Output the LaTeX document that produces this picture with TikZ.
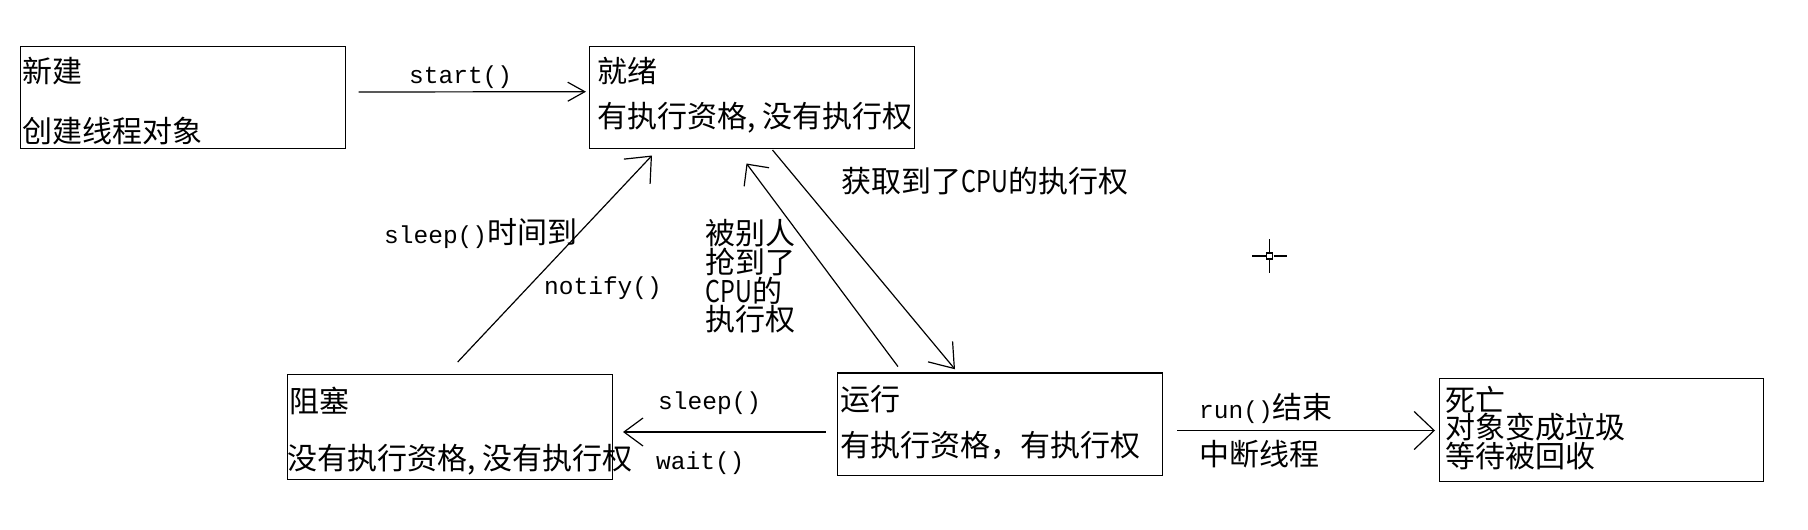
\documentclass[tikz,border=0pt]{standalone}
\usepackage{fontspec}
\usepackage{graphicx}
\setmainfont{Noto Sans CJK SC}
\newfontfamily\codefont{Liberation Mono}
\newcommand\codetxt[1]{{\codefont\fontsize{24.5}{26}\selectfont #1}}
\newcommand\cputxt{\scalebox{0.78}[1]{CPU}}
\newcommand\halfcomma{\makebox[0.5em][l]{,}}
\usetikzlibrary{arrows.meta}
\begin{document}
\begin{tikzpicture}[x=1pt,y=-1pt,
  box/.style={draw, line width=1.4pt, inner sep=0, anchor=north west},
  txt/.style={inner sep=0, anchor=west, align=left, font=\fontsize{30}{28}\selectfont},
  arr/.style 2 args={line width=1.2pt, -{Straight Barb[length=#1,width=#2,line width=1.2pt]}}]
\useasboundingbox[fill=white] (0,0) rectangle (1808,530);

% boxes
\node[box, minimum width=325pt, minimum height=101.6pt] (new) at (19.6,46) {};
\node[box, minimum width=325pt, minimum height=101.6pt] (ready) at (589,46) {};
\node[box, minimum width=325pt, minimum height=105pt] (blocked) at (287,373.6) {};
\node[box, minimum width=325pt, minimum height=102.6pt] (running) at (837,372.4) {};
\node[box, minimum width=324pt, minimum height=103pt] (dead) at (1439,378) {};

% box texts
\node[txt] (newA) at (22,71.5) {新建};
\node[txt] (newB) at (22,131.5) {创建线程对象};
\node[txt] (readyA) at (597,71.5) {就绪};
\node[txt] (readyB) at (597,117.6) {有执行资格\halfcomma 没有执行权};
\node[txt] (blockedA) at (289.4,401) {阻塞};
\node[txt] (blockedB) at (287,460) {没有执行资格\halfcomma 没有执行权};
\node[txt] (runningA) at (840.5,399) {运行};
\node[txt] (runningB) at (840.5,445) {有执行资格，有执行权};
\node[txt, anchor=north west, font=\fontsize{30}{27.5}\selectfont] (deadT) at (1445,386) {死亡\\对象变成垃圾\\等待被回收};

% arrow end points
\coordinate (s1) at (358.6,92);   \coordinate (s2) at (586,91.7);
\coordinate (b1) at (457.7,362);  \coordinate (b2) at (652,155.5);
\coordinate (r1) at (898,366.6);  \coordinate (r2) at (746.5,163.5);
\coordinate (g1) at (772.5,150);  \coordinate (g2) at (955,369.3);
\coordinate (w1) at (825.6,432);  \coordinate (w2) at (623,432);
\coordinate (d1) at (1177,430.5); \coordinate (d2) at (1435,430.5);

\draw[arr={17pt}{19pt}] (s1) -- (s2);
\draw[arr={21pt}{36pt}] (b1) -- (b2);
\draw[arr={16pt}{31pt}] (r1) -- (r2);
\draw[arr={22pt}{32pt}] (g1) -- (g2);
\draw[arr={19pt}{28pt}] (w1) -- (w2);
\draw[arr={20pt}{38pt}] (d1) -- (d2);

% arrow labels
\node[txt] (lstart) at (409,77) {\codetxt{start()}};
\node[txt] (lsleept) at (384,234) {\codetxt{sleep()}时间到};
\node[txt] (lnotify) at (544,288) {\codetxt{notify()}};
\node[txt] (lget) at (841.7,181) {获取到了\cputxt 的执行权};
\node[txt, anchor=north west, font=\fontsize{30}{26.5}\selectfont] (lrob) at (705.6,219) {被别人\\抢到了\\\cputxt 的\\执行权};
\node[txt] (lsleep) at (658,403.6) {\codetxt{sleep()}};
\node[txt] (lwait) at (656,463.5) {\codetxt{wait()}};
\node[txt] (lrun) at (1199,408) {\codetxt{run()}结束};
\node[txt] (lint) at (1199,454) {中断线程};

% cursor crosshair
\draw[line width=1.6pt] (1252,256) -- (1265.5,256) (1273.5,256) -- (1287,256)
  (1269.5,239) -- (1269.5,252) (1269.5,260) -- (1269.5,273);
\draw[line width=1.2pt] (1266.5,253) rectangle (1272.5,259);
\end{tikzpicture}
\end{document}
